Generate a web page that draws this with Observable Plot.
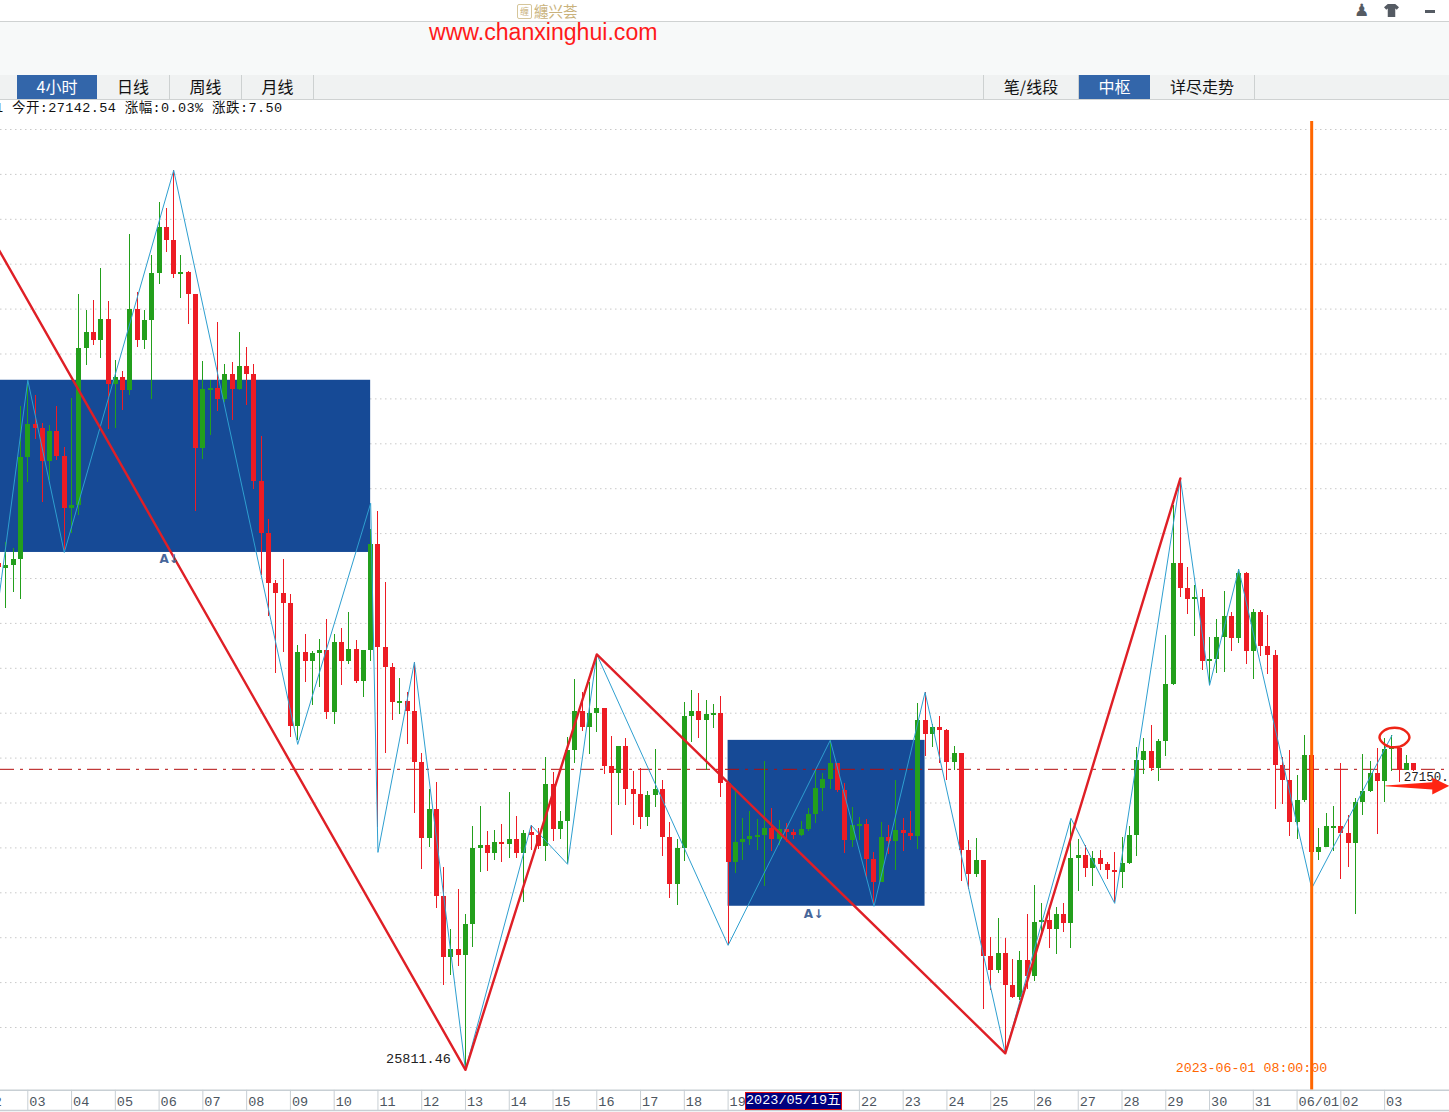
<!DOCTYPE html>
<html lang="zh">
<head>
<meta charset="utf-8">
<script src="https://cdn.jsdelivr.net/npm/d3@7"></script>
<script src="https://cdn.jsdelivr.net/npm/@observablehq/plot@0.6"></script>
<style>
  html,body{margin:0;padding:0;background:#fff;}
  #page{position:relative;width:1449px;height:1112px;overflow:hidden;background:#fff;font-family:"Noto Sans CJK SC",sans-serif;}
  .abs{position:absolute;}
  #band{left:0;top:21px;width:1449px;height:53px;background:#f7f9f9;border-top:1px solid #cfd2d2;border-bottom:1px solid #cfd2d2;}
  #tabs{left:0;top:75px;width:1449px;height:24px;background:#f0f2f2;border-bottom:1px solid #cfd2d2;}
  .tab{position:absolute;top:0;height:24px;line-height:23px;text-align:center;font-size:16px;color:#111;border-right:1px solid #cdd1d1;box-sizing:border-box;}
  .tab.on{background:#3366aa;color:#fff;border-right:none;}
  #site{left:429px;top:17px;font:23.1px/30px "Liberation Sans",Arial,sans-serif;color:#ff1a1a;white-space:nowrap;}
  #logo{left:534px;top:1px;font:14.5px/19px "Noto Sans CJK SC",sans-serif;color:#c9b27c;white-space:nowrap;}
  #logobox{left:517px;top:4px;width:13px;height:13px;border:1.5px solid #d6c69a;border-radius:2px;font:9px/13px "Noto Sans CJK SC",sans-serif;color:#c9b27c;text-align:center;}
  #quote{left:-5px;top:100px;font:13.5px/17px "Liberation Mono","Noto Sans CJK SC",monospace;letter-spacing:.4px;color:#111;white-space:pre;z-index:3;}
  #chart{left:0;top:100px;width:1449px;}
  #cursor{left:745px;top:1092px;width:95px;height:16px;background:#00007f;border:1px solid #e01010;font:13.5px/16px "Liberation Mono","Noto Sans CJK SC",monospace;color:#fff;white-space:nowrap;overflow:hidden;z-index:3;}
  #person{left:1354px;top:0px;font:17px/20px "DejaVu Sans",sans-serif;color:#555b63;}
  #shirt{left:1384px;top:4px;width:15px;height:13px;background:#555b63;clip-path:polygon(25% 0,75% 0,100% 25%,85% 45%,75% 35%,75% 100%,25% 100%,25% 35%,15% 45%,0 25%);}
  #mini{left:1425px;top:10px;width:10px;height:3px;background:#555b63;}
</style>
</head>
<body>
<div id="page">
  <div class="abs" id="logobox">缠</div>
  <div class="abs" id="logo">纏兴荟</div>
  <div class="abs" id="person">♟</div>
  <div class="abs" id="shirt"></div>
  <div class="abs" id="mini"></div>
  <div class="abs" id="band"></div>
  <div class="abs" id="site">www.chanxinghui.com</div>
  <div class="abs" id="tabs">
    <div class="tab on" style="left:17px;width:80px">4小时</div>
    <div class="tab" style="left:97px;width:73px">日线</div>
    <div class="tab" style="left:170px;width:72px">周线</div>
    <div class="tab" style="left:242px;width:72px">月线</div>
    <div class="tab" style="left:983px;width:96px;border-left:1px solid #cdd1d1">笔/线段</div>
    <div class="tab on" style="left:1079px;width:71px">中枢</div>
    <div class="tab" style="left:1150px;width:105px">详尽走势</div>
  </div>
  <div class="abs" id="chart"></div>
  <div class="abs" id="quote">1 今开:27142.54 涨幅:0.03% 涨跌:7.50</div>
  <div class="abs" id="cursor">2023/05/19五</div>
</div>
<script>
const highs = [28068,28161,28134,28767,28865,28816,28691,28682,28767,28584,
28803,29265,29194,29239,29381,29234,28972,28923,29533,29274,29194,29439,29675,29649,29818,29439,29368,29265,28967,28883,
29141,28954,28963,29096,29029,28954,28633,28264,27992,28085,27929,27702,27751,27676,27729,27818,27751,27778,27849,27725,
27680,28219,28299,27983,27622,27555,27493,27627,27221,27061,27092,26713,26437,26616,26504,26896,26985,26874,26878,26905,
27048,26941,26878,26901,26887,27203,27137,26963,27293,27551,27493,27537,27662,27422,27297,27252,27288,27141,27154,27052,
27239,27101,26914,26838,27448,27502,27488,27457,27440,27475,27097,27065,26931,26963,26927,27186,26976,26923,26910,26883,
26918,26976,27146,27132,27279,27177,27088,26981,26936,26927,26780,26914,26901,27101,26931,26963,27444,27493,27350,27386,
27328,27252,27221,26834,26843,26745,26401,26486,26397,26304,26339,26504,26633,26553,26544,26535,26553,26923,26838,26811,
26785,26789,26736,26780,26847,26896,27248,27288,27346,27284,27747,28326,28446,28050,27970,27952,27738,27818,27943,27849,
28041,28027,27863,27858,27836,27680,27203,27235,27123,27301,27212,26887,26954,26985,27177,26945,27021,27217,27186,27244,
27288,27301,27244,27212,27177];
const lows = [28050,27867,27938,27907,28428,28620,28339,28437,28526,28125,
28201,28281,28949,29038,28981,28664,28669,28749,28816,29029,29021,28798,29310,29453,29337,29248,29132,28299,28531,28638,
28745,28785,28704,28838,28771,28397,28014,27831,27578,27671,27293,27279,27537,27435,27515,27373,27350,27524,27618,27533,
27471,27631,26892,27221,27368,27395,27261,26954,26705,26803,26531,26188,26232,26273,25811.46,26357,26691,26696,26745,26736,
26754,26754,26558,26789,26793,26740,26829,26838,26731,27177,27319,27217,27315,27128,26856,26990,26990,26901,26883,26896,
26981,26762,26575,26544,26740,27270,27288,27146,27333,27025,26366,26687,26745,26811,26789,26629,26785,26811,26825,26838,
26851,26874,26910,26963,27061,27048,26776,26803,26834,26665,26544,26647,26771,26700,26785,26834,26793,27208,27248,27177,
27101,27146,26651,26616,26669,26081,26166,26241,25885,26130,26121,26170,26206,26410,26353,26326,26424,26353,26607,26669,
26629,26700,26660,26558,26620,26727,26762,27128,27141,27097,27208,27524,27916,27840,27742,27591,27524,27578,27582,27676,
27711,27618,27551,27653,27573,26972,26994,26852,26838,27003,26770,26745,26803,26785,26660,26714,26504,26945,27048,26861,
27003,27141,27092,27146,27141];
const opens = [28068,28045,28059,28085,28539,28686,28669,28522,28655,28544,
28313,28326,29025,29096,29061,29154,28865,28896,28838,29199,29061,29150,29359,29564,29506,29355,29363,29265,28580,28838,
28847,28798,28909,28843,28945,28909,28433,28201,27979,27934,27889,27342,27671,27631,27667,27680,27404,27716,27631,27685,
27542,27680,28152,27693,27604,27444,27453,27408,27181,26843,26972,26584,26313,26348,26322,26460,26798,26811,26776,26825,
26816,26838,26776,26869,26856,26807,27083,26883,26918,27235,27408,27337,27399,27422,27163,27132,27252,27061,27039,26936,
27034,27061,26847,26638,26798,27386,27408,27368,27391,27399,27088,26736,26825,26838,26847,26856,26887,26838,26883,26869,
26856,26883,26949,27065,27105,27177,27056,26834,26897,26905,26749,26647,26847,26829,26878,26865,26851,27368,27306,27337,
27324,27181,27221,26789,26682,26745,26317,26255,26330,26188,26134,26299,26228,26468,26477,26437,26504,26464,26754,26767,
26709,26754,26727,26700,26691,26731,26856,27190,27230,27154,27275,27529,28068,27956,27907,27916,27631,27640,27738,27832,
27733,28023,27676,27849,27698,27658,27168,27101,26914,27012,27212,26780,26803,26887,26896,26865,26820,27003,27052,27132,
27097,27239,27244,27146,27177];
const closes = [28050,28059,28085,28539,28686,28669,28522,28655,28544,28313,
28326,29025,29096,29061,29154,28865,28896,28838,29199,29061,29150,29359,29564,29506,29355,29363,29265,28580,28843,28847,
28798,28909,28843,28945,28909,28433,28201,27979,27934,27889,27342,27671,27631,27667,27680,27404,27716,27631,27685,27542,
27680,28152,27693,27604,27448,27453,27408,27181,26843,26972,26584,26313,26348,26322,26460,26798,26811,26776,26825,26816,
26838,26776,26865,26856,26807,27083,26883,26918,27235,27408,27337,27399,27422,27163,27132,27252,27061,27039,26936,27034,
27061,26847,26638,26798,27386,27408,27368,27395,27399,27088,26736,26825,26838,26851,26856,26887,26838,26883,26869,26856,
26883,26949,27065,27105,27177,27056,26834,26901,26905,26749,26647,26847,26829,26878,26865,26851,27368,27306,27337,27324,
27181,27221,26789,26682,26745,26317,26255,26330,26188,26134,26299,26228,26468,26477,26437,26504,26464,26754,26767,26709,
26754,26727,26700,26691,26731,26856,27190,27230,27154,27275,27529,28068,27956,27907,27916,27631,27640,27738,27832,27733,
28023,27676,27849,27698,27658,27168,27101,26914,27012,27212,26780,26803,26896,26896,26865,26820,27003,27052,27132,27097,
27239,27248,27146,27177,27146];
const firstCandle = -4;

// thin blue "bi" strokes: candle number, price
const biCandles = [-4,0,5,20,37,47,48,53,60,69,74,78,96,110,116,123,134,143,149,158,162,166,176,187];
const biPrices = [27903,28883,28116,29818,27261,28335,26780,27627,25811.46,26901,26727,27662,26366,27279,26540,27493,25885,26932,26553,28446,27524,28041,26620,27301];

// thick red "segments"
const segCandles = [-4,60,78,134,158];
const segPrices = [29466,25811.46,27662,25885,28446];

// centre boxes
const boxFrom = [-4,96];
const boxTo = [47,123];
const boxHigh = [28883,27279];
const boxLow = [28116,26540];

const gridPrices = [26000,26200,26400,26600,26800,27000,27200,27400,27600,27800,28000,28200,28400,28600,28800,29000,29200,29400,29600,29800,30000];
const lastPrice = 27150;

const dayTicks = [-6,0,6,12,18,24,30,36,42,48,54,60,66,72,78,84,90,96,114,120,126,132,138,144,150,156,162,168,174,180,186];
const dayLabels = ["02","03","04","05","06","07","08","09","10","11","12","13","14","15","16","17","18","19","22","23","24","25","26","27","28","29","30","31","06/01","02","03"];

// small buy/sell signs under the boxes
const signCandles = [18.7,20,107,108.4];
const signPrices = [28085,28085,26504,26504];
const signGlyphs = ["A","↓","A","↓"];

// hand-drawn annotations
const ringCandles = [185.3,186.0,187.4,188.7,189.4,188.7,187.4,186.0];
const ringPrices = [27293,27324,27335,27324,27293,27261,27248,27261];
const arrowCandles = [186.2,192.6,192.6,194.9];
const arrowTop = [27076,27090,27110,27074];
const arrowBottom = [27072,27058,27036,27074];

const cursorCandle = 176;
const cursorTop = 30036;
const cursorBottom = 25720;
const axisTop = 25720;
const axisBottom = 25630;

const RED = "#ed1c24", GREEN = "#239f1c", BLUE = "#2e9fd0", BOX = "#164a96", LINE = "#df1f26";
const MONO = "Liberation Mono";

const candles = highs.map((h, k) => ({i: firstCandle + k, high: h, low: lows[k], open: opens[k], close: closes[k]}));
const colorOf = d => d.close >= d.open ? GREEN : RED;
const bi = biCandles.map((c, k) => ({c, p: biPrices[k]}));
const seg = segCandles.map((c, k) => ({c, p: segPrices[k]}));
const boxes = boxFrom.map((f, k) => ({f, t: boxTo[k], hi: boxHigh[k], lo: boxLow[k]}));
const signs = signCandles.map((c, k) => ({c, p: signPrices[k], g: signGlyphs[k]}));
const ring = ringCandles.map((c, k) => ({c, p: ringPrices[k]}));
const arrow = arrowCandles.map((c, k) => ({c, a: arrowTop[k], b: arrowBottom[k]}));

const chart = Plot.plot({
  width: 1449,
  height: 1012,
  marginTop: 0, marginRight: 0, marginBottom: 21, marginLeft: 0,
  style: {background: "transparent"},
  x: {type: "linear", domain: [0, 190], range: [27.3, 1413.3], label: null},
  y: {type: "linear", domain: [26000, 30000], range: [927, 29], axis: null},
  marks: [
    Plot.ruleY(gridPrices, {stroke: "#c9c9c9", strokeDasharray: "1.5,3.5", strokeWidth: 1}),
    Plot.rect(boxes, {x1: "f", x2: "t", y1: "lo", y2: "hi", fill: BOX}),
    Plot.ruleY([lastPrice], {stroke: "#b30d0d", strokeWidth: 1, strokeDasharray: "14,6,3,6"}),
    Plot.ruleX(candles, {x: "i", y1: "low", y2: "high", stroke: colorOf, strokeWidth: 1, shapeRendering: "crispEdges"}),
    Plot.ruleX(candles, {x: "i", y1: "open", y2: "close", stroke: colorOf, strokeWidth: 5, shapeRendering: "crispEdges"}),
    Plot.line(bi, {x: "c", y: "p", stroke: BLUE, strokeWidth: 1}),
    Plot.line(seg, {x: "c", y: "p", stroke: LINE, strokeWidth: 2.4}),
    Plot.text(signs, {x: "c", y: "p", text: "g", fill: "#47669a", fontSize: 12, fontWeight: "bold", fontFamily: "DejaVu Sans"}),
    Plot.text(["25811.46"], {x: [58], y: [25863], text: d => d, textAnchor: "end", fontFamily: MONO, fontSize: 13.5, fill: "#222"}),
    Plot.text(["2023-06-01 08:00:00"], {x: [cursorCandle], y: [25820], text: d => d, textAnchor: "start", dx: -136, fontFamily: MONO, fontSize: 13.3, fill: "#ff6600"}),
    Plot.ruleX([cursorCandle], {y1: cursorBottom, y2: cursorTop, stroke: "#ff6600", strokeWidth: 3}),
    Plot.text(["27150."], {x: [190], y: [27114], text: d => d, textAnchor: "start", dx: -10, fontFamily: MONO, fontSize: 12.5, fill: "#222"}),
    Plot.areaY(arrow, {x: "c", y1: "a", y2: "b", fill: "#ff2412"}),
    Plot.line(ring, {x: "c", y: "p", curve: "catmull-rom-closed", stroke: "#ee2416", strokeWidth: 2.5, fill: "none"}),
    Plot.ruleY([axisTop, axisBottom], {stroke: "#c8cfd4", strokeWidth: 1.5}),
    Plot.ruleX(dayTicks, {y1: axisTop, y2: axisBottom, stroke: "#c8cfd4", strokeWidth: 1}),
    Plot.axisX(dayTicks, {
      anchor: "bottom", label: null, tickSize: 0, tickPadding: 5, textAnchor: "start", dx: 1.5,
      tickFormat: d => dayLabels[dayTicks.indexOf(d)],
      fontFamily: MONO, fontSize: 13.5, fill: "#4c5560"
    })
  ]
});
document.getElementById("chart").appendChild(chart);
</script>
</body>
</html>
